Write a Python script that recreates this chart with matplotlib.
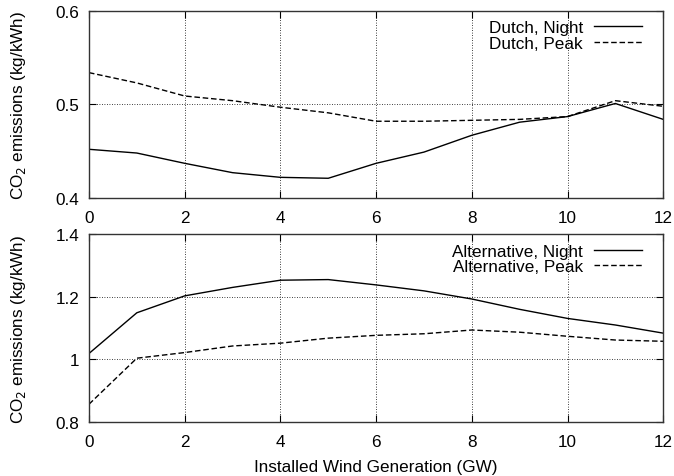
import matplotlib
matplotlib.use("Agg")
import matplotlib.pyplot as plt

plt.rcParams['font.family'] = ['Liberation Sans', 'DejaVu Sans']

wind_gw = [0, 1, 2, 3, 4, 5, 6, 7, 8, 9, 10, 11, 12]

dutch_night = [0.452, 0.448, 0.437, 0.427, 0.422, 0.421, 0.437, 0.449, 0.467, 0.481, 0.487, 0.501, 0.484]
dutch_peak = [0.534, 0.523, 0.509, 0.504, 0.497, 0.491, 0.482, 0.482, 0.483, 0.484, 0.487, 0.504, 0.498]

alt_night = [1.019, 1.149, 1.203, 1.230, 1.253, 1.255, 1.238, 1.219, 1.193, 1.160, 1.131, 1.110, 1.084]
alt_peak = [0.857, 1.004, 1.022, 1.043, 1.052, 1.068, 1.077, 1.082, 1.094, 1.087, 1.074, 1.062, 1.058]

x_ticks = [0, 2, 4, 6, 8, 10, 12]
top_yticks = [0.4, 0.5, 0.6]
top_ylabels = ['0.4', '0.5', '0.6']
bot_yticks = [0.8, 1.0, 1.2, 1.4]
bot_ylabels = ['0.8', '1', '1.2', '1.4']

fig = plt.figure(figsize=(6.74, 4.77), dpi=100)
ax_top = fig.add_axes([0.132, 0.583, 0.852, 0.392])
ax_bot = fig.add_axes([0.132, 0.113, 0.852, 0.394])

fs = 12.3
ylabel = 'CO$_2$ emissions (kg/kWh)'


def style(ax, yticks, ylabels, ylim):
    ax.set_xlim(0, 12)
    ax.set_ylim(*ylim)
    ax.set_xticks(x_ticks)
    ax.set_xticklabels([str(t) for t in x_ticks])
    ax.set_yticks(yticks)
    ax.set_yticklabels(ylabels)
    ax.tick_params(direction='in', top=True, right=True, length=5, width=0.8,
                   labelsize=fs, colors='black')
    ax.tick_params(axis='x', pad=8.5)
    ax.tick_params(axis='y', pad=7)
    ax.grid(True, color='black', linestyle=(0, (1, 2)), linewidth=0.6)
    for s in ax.spines.values():
        s.set_linewidth(1.0)
        s.set_color('#333333')
    ax.set_ylabel(ylabel, fontsize=fs)
    ax.yaxis.set_label_coords(-0.106, 0.5)


ax_top.plot(wind_gw, dutch_night, color='black', linewidth=1.0, label='Dutch, Night')
ax_top.plot(wind_gw, dutch_peak, color='black', linewidth=1.0, linestyle=(0, (4, 2)), label='Dutch, Peak')
style(ax_top, top_yticks, top_ylabels, (0.4, 0.6))

ax_bot.plot(wind_gw, alt_night, color='black', linewidth=1.0, label='Alternative, Night')
ax_bot.plot(wind_gw, alt_peak, color='black', linewidth=1.0, linestyle=(0, (4, 2)), label='Alternative, Peak')
style(ax_bot, bot_yticks, bot_ylabels, (0.8, 1.4))
ax_bot.set_xlabel('Installed Wind Generation (GW)', fontsize=fs, labelpad=7)

for ax in (ax_top, ax_bot):
    leg = ax.legend(loc='upper right', bbox_to_anchor=(1 - 12 / 574, 1.0),
                    frameon=False, markerfirst=False, fontsize=fs,
                    handlelength=2.8, handletextpad=0.65, labelspacing=0.02,
                    borderaxespad=0.25, borderpad=0.3)

fig.savefig('out.png', dpi=100)
